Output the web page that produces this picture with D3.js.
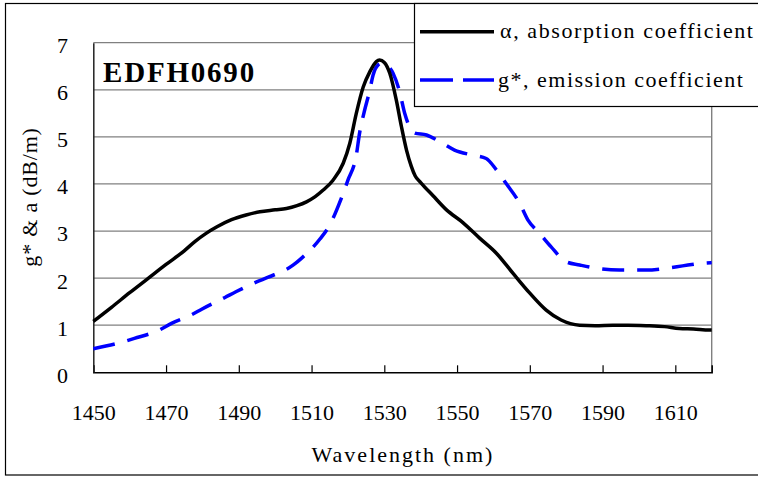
<!DOCTYPE html>
<html>
<head>
<meta charset="utf-8">
<script src="https://cdn.jsdelivr.net/npm/d3@7/dist/d3.min.js"></script>
<style>
  html, body { margin: 0; padding: 0; background: #fff; }
  svg text { font-family: "Liberation Serif", "Times New Roman", serif; }
</style>
</head>
<body>
<svg id="chart" width="758" height="477"></svg>
<script>
// ---- data ----
const title = "EDFH0690";
const xTicks = [1450, 1470, 1490, 1510, 1530, 1550, 1570, 1590, 1610];
const yTicks = [0, 1, 2, 3, 4, 5, 6, 7];
const seriesNames = ["\u03b1, absorption coefficient", "g*, emission coefficient"];

const alphaWl = [1450,1455,1460,1465,1470,1475,1478,1481,1484,1488,1492,1495.8,1500,1503.1,1506,1508.6,1511,1513.2,1515.9,1518.7,1520.5,1522.3,1524.2,1526,1527.8,1528.7,1530,1531.5,1533.3,1534.7,1536.1,1537.4,1538.5,1540,1543.4,1547.1,1551.6,1556.2,1560.8,1565.4,1570,1574.5,1578.6,1583.7,1588,1592.8,1597,1602,1607,1611.1,1615,1619.4,1620];
const alphaVal = [1.08,1.38,1.69,1.99,2.29,2.58,2.78,2.95,3.09,3.24,3.34,3.41,3.45,3.48,3.54,3.62,3.73,3.87,4.08,4.44,4.86,5.5,6.06,6.38,6.6,6.63,6.58,6.35,5.78,5.22,4.72,4.38,4.17,4.03,3.75,3.45,3.18,2.85,2.53,2.10,1.68,1.32,1.11,1.0,0.99,1.0,1.0,0.99,0.97,0.93,0.92,0.90,0.9];

const gWl = [1450,1456.9,1461.3,1468.2,1471.5,1477,1479.8,1486.2,1489.2,1494.9,1498.1,1505,1507.2,1512.3,1515,1518.2,1520,1522.3,1523.2,1524.6,1526,1526.9,1528.3,1529.5,1530.6,1532.4,1534.2,1535.6,1538.4,1541.6,1545.2,1549.3,1554.4,1558,1560.8,1563.5,1567.2,1569.5,1572.7,1575.8,1579.9,1583.7,1588.2,1594.6,1602,1607.5,1612,1616.6,1620];
const gVal = [0.5,0.62,0.72,0.90,1.04,1.22,1.34,1.59,1.71,1.92,2.02,2.28,2.42,2.83,3.13,3.70,4.08,4.61,5.08,5.57,5.99,6.31,6.53,6.57,6.53,6.35,5.96,5.5,5.08,5.04,4.90,4.72,4.61,4.54,4.30,4.01,3.59,3.23,2.95,2.67,2.35,2.28,2.21,2.17,2.17,2.21,2.26,2.31,2.33];

// ---- layout ----
const svg = d3.select("#chart");
const L = 93.3, R = 711.7, T = 42.7, B = 372.3;
const x = d3.scaleLinear().domain([1450, 1620]).range([L, R]);
const y = d3.scaleLinear().domain([0, 7]).range([B, T]);

// outer frame
svg.append("rect").attr("x", 5.5).attr("y", 3.5).attr("width", 800).attr("height", 471.5)
  .attr("fill", "none").attr("stroke", "#000").attr("stroke-width", 1.2);

// gridlines
svg.append("g").selectAll("line").data(yTicks.filter(d => d > 0)).join("line")
  .attr("x1", L).attr("x2", R).attr("y1", d => y(d)).attr("y2", d => y(d))
  .attr("stroke", "#808080").attr("stroke-width", 1.2);
// right border
svg.append("line").attr("x1", R).attr("x2", R).attr("y1", T).attr("y2", B)
  .attr("stroke", "#808080").attr("stroke-width", 1.4);

// x axis (inward ticks)
const xAxis = d3.axisBottom(x).tickValues(xTicks).tickSize(-7).tickPadding(0).tickFormat(d3.format("d"));
const gx = svg.append("g").attr("transform", `translate(0,${B})`).call(xAxis);
gx.select(".domain").attr("stroke", "#000").attr("stroke-width", 1.5);
gx.selectAll(".tick line").attr("stroke", "#000").attr("stroke-width", 1.2);
gx.selectAll(".tick text").attr("y", 48).attr("dy", null)
  .attr("font-size", 22).attr("fill", "#000").attr("font-family", "Liberation Serif, serif");

// y axis (no ticks)
const yAxis = d3.axisLeft(y).tickValues(yTicks).tickSize(0).tickPadding(0).tickFormat(d3.format("d"));
const gy = svg.append("g").attr("transform", `translate(${L},0)`).call(yAxis);
gy.select(".domain").attr("stroke", "#222").attr("stroke-width", 1.5);
gy.selectAll(".tick text").attr("x", 68 - L).attr("dy", "0.45em")
  .attr("font-size", 22).attr("fill", "#000").attr("font-family", "Liberation Serif, serif");

// lines
const lineGen = d3.line().x(d => x(d[0])).y(d => y(d[1])).curve(d3.curveMonotoneX);
const alphaData = alphaWl.map((w, i) => [w, alphaVal[i]]);
const gData = gWl.map((w, i) => [w, gVal[i]]);

svg.append("path").datum(gData).attr("d", lineGen)
  .attr("fill", "none").attr("stroke", "#0000ff").attr("stroke-width", 3.5)
  .attr("stroke-dasharray", "22,13");
svg.append("path").datum(alphaData).attr("d", lineGen)
  .attr("fill", "none").attr("stroke", "#000").attr("stroke-width", 3.5);

// title
svg.append("text").attr("x", 103).attr("y", 82).attr("font-size", 29).attr("font-weight", "bold")
  .attr("letter-spacing", 1.8).text(title);

// legend
const lg = svg.append("g");
lg.append("rect").attr("x", 414.5).attr("y", 3.5).attr("width", 400).attr("height", 103)
  .attr("fill", "#fff").attr("stroke", "#000").attr("stroke-width", 1.2);
lg.append("line").attr("x1", 420).attr("x2", 494).attr("y1", 31.7).attr("y2", 31.7)
  .attr("stroke", "#000").attr("stroke-width", 3.5);
lg.append("line").attr("x1", 420).attr("x2", 494).attr("y1", 80).attr("y2", 80)
  .attr("stroke", "#0000ff").attr("stroke-width", 3.5).attr("stroke-dasharray", "33,10");
lg.selectAll("text.leg").data(seriesNames).join("text").attr("class", "leg")
  .attr("x", (d, i) => i === 0 ? 500 : 498).attr("y", (d, i) => 38 + i * 48.5).attr("font-size", 22)
  .attr("letter-spacing", (d, i) => i === 0 ? 1.6 : 1.5).text(d => d);

// axis titles
svg.append("text").attr("x", 403).attr("y", 461.5).attr("text-anchor", "middle")
  .attr("font-size", 22).attr("letter-spacing", 2).text("Wavelength (nm)");
svg.append("text").attr("transform", "translate(37,197) rotate(-90)").attr("text-anchor", "middle")
  .attr("font-size", 22).attr("letter-spacing", 0.8).text("g* & a (dB/m)");
</script>
</body>
</html>
